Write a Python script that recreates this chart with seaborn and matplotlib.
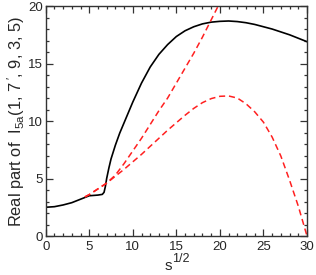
import matplotlib
matplotlib.use("Agg")
import matplotlib.pyplot as plt
import seaborn as sns
import pandas as pd
from matplotlib.ticker import MultipleLocator

sns.set_style("ticks")
plt.rcParams['font.family'] = ['Liberation Sans', 'DejaVu Sans']
plt.rcParams['mathtext.fontset'] = 'custom'
plt.rcParams['mathtext.rm'] = 'Liberation Sans'

black_x = [0, 1, 2, 3, 4, 5, 5.5, 6, 6.5, 6.7, 6.85, 7.0, 7.25, 7.5, 8, 8.5, 9, 10, 11, 12, 13,
           14, 15, 16, 17, 18, 19, 20, 21, 22, 23, 24, 25, 26, 27, 28, 29, 30]
black_y = [2.5, 2.55, 2.7, 2.9, 3.2, 3.5, 3.53, 3.56, 3.62, 3.8, 4.3, 5.0, 5.9, 6.7, 7.9, 8.95,
           9.85, 11.65, 13.3, 14.7, 15.8, 16.65, 17.35, 17.85, 18.2, 18.45, 18.6, 18.67, 18.7,
           18.65, 18.55, 18.4, 18.2, 18.0, 17.75, 17.5, 17.2, 16.9]

red1_x = [4.5, 5, 6, 7, 8, 9, 10, 11, 12, 13, 14, 15, 16, 17, 18, 19, 19.8]
red1_y = [3.4, 3.6, 4.1, 4.6, 5.3, 6.3, 7.4, 8.5, 9.7, 10.9, 12.0, 13.3, 14.6, 15.9, 17.3, 18.8, 20.0]

red2_x = [4.5, 5, 6, 7, 8, 9, 10, 11, 12, 13, 14, 15, 16, 17, 18, 19, 20, 21, 22, 23, 24, 25,
          26, 27, 28, 29, 30]
red2_y = [3.4, 3.6, 4.1, 4.6, 5.2, 5.8, 6.45, 7.1, 7.8, 8.5, 9.2, 9.85, 10.5, 11.1, 11.6, 11.95,
          12.15, 12.18, 12.0, 11.5, 10.8, 9.9, 8.6, 6.95, 4.85, 2.6, 0.0]

df_black = pd.DataFrame({"x": black_x, "y": black_y})
df_r1 = pd.DataFrame({"x": red1_x, "y": red1_y})
df_r2 = pd.DataFrame({"x": red2_x, "y": red2_y})

fig = plt.figure(figsize=(3.16, 2.75), dpi=100)
ax = fig.add_axes([0.1446, 0.1418, 0.9715 - 0.1446, 0.978 - 0.1418])

sns.lineplot(data=df_black, x="x", y="y", ax=ax, color="black", lw=1.2, sort=False)
sns.lineplot(data=df_r1, x="x", y="y", ax=ax, color="#ff2020", lw=1.1,
             linestyle=(0, (4, 2.5)), sort=False)
sns.lineplot(data=df_r2, x="x", y="y", ax=ax, color="#ff2020", lw=1.1,
             linestyle=(0, (4, 2.5)), sort=False)

ax.set_xlim(0, 30)
ax.set_ylim(0, 20)
ax.xaxis.set_major_locator(MultipleLocator(5))
ax.xaxis.set_minor_locator(MultipleLocator(1))
ax.yaxis.set_major_locator(MultipleLocator(5))
ax.yaxis.set_minor_locator(MultipleLocator(1))
ax.tick_params(which='both', direction='in', top=True, right=True, labelsize=9.5,
               width=0.9, color='#333333')
ax.tick_params(which='major', length=5, pad=2)
ax.tick_params(axis='x', which='major', pad=3.5)
ax.tick_params(which='minor', length=2.5)
for s in ax.spines.values():
    s.set_linewidth(1.0)
    s.set_color('#333333')

ax.set_xlabel("")
ax.set_ylabel(r"Real part of  $\mathregular{I_{5a}}$(1, 7$\,'$, 9, 3, 5)", fontsize=11.8)
ax.yaxis.set_label_coords(-0.072, 0.5)

fig.text(168 / 316, 1 - 270 / 275, "s", fontsize=11, ha="center", va="baseline")
fig.text(172 / 316, 1 - 262 / 275, "1/2", fontsize=9, ha="left", va="baseline")

fig.savefig("out.png", dpi=100)
